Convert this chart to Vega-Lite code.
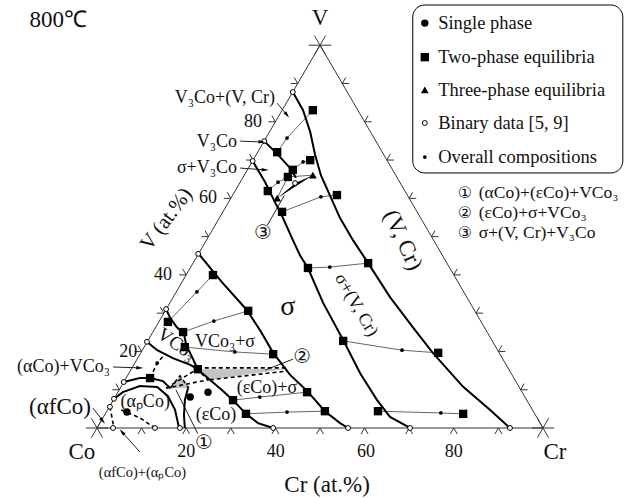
{
  "$schema": "https://vega.github.io/schema/vega-lite/v6.json",
  "width": 644,
  "height": 498,
  "padding": 0,
  "autosize": {"type": "fit", "contains": "padding"},
  "background": "white",
  "config": {"view": {"stroke": null}},
  "datasets": {
    "box": [{"x": 70.8, "x2": 117.9, "y": 95.7, "y2": 57.7}],
    "grey": [
      {"id": "g1", "x": 16.4, "y": 9.0}, {"id": "g1", "x": 18.6, "y": 11.8}, {"id": "g1", "x": 20.6, "y": 9.0},
      {"id": "g2", "x": 22.6, "y": 13.3}, {"id": "g2", "x": 42.8, "y": 13.4}, {"id": "g2", "x": 25.3, "y": 10.9}
    ],
    "black3": [
      {"id": "g3", "x": 40.4, "y": 52.0}, {"id": "g3", "x": 48.4, "y": 57.2}, {"id": "g3", "x": 44.5, "y": 55.4}
    ],
    "edges": [{"x": 0, "y": 0}, {"x": 100, "y": 0}, {"x": 50, "y": 86.6}, {"x": 0, "y": 0}],
    "ticksBase": [{"x": 10, "y": 0}, {"x": 20, "y": 0}, {"x": 30, "y": 0}, {"x": 40, "y": 0}, {"x": 50, "y": 0}, {"x": 60, "y": 0}, {"x": 70, "y": 0}, {"x": 80, "y": 0}, {"x": 90, "y": 0}],
    "ticksLeft": [{"x": 5, "y": 8.66}, {"x": 10, "y": 17.32}, {"x": 15, "y": 25.98}, {"x": 20, "y": 34.64}, {"x": 25, "y": 43.3}, {"x": 30, "y": 51.96}, {"x": 35, "y": 60.62}, {"x": 40, "y": 69.28}, {"x": 45, "y": 77.94}],
    "ticksRight": [{"x": 95, "y": 8.66}, {"x": 90, "y": 17.32}, {"x": 85, "y": 25.98}, {"x": 80, "y": 34.64}, {"x": 75, "y": 43.3}, {"x": 70, "y": 51.96}, {"x": 65, "y": 60.62}, {"x": 60, "y": 69.28}, {"x": 55, "y": 77.94}],
    "corners": [{"x": 0, "y": 0}, {"x": 100, "y": 0}, {"x": 50, "y": 86.6}],
    "thin": [
      {"id": "t1", "x": 40.4, "y": 62.4}, {"id": "t1", "x": 42.6, "y": 65.6}, {"id": "t1", "x": 48.4, "y": 71.9},
      {"id": "t2", "x": 43.9, "y": 58.4}, {"id": "t2", "x": 46.2, "y": 60.2}, {"id": "t2", "x": 47.8, "y": 60.6},
      {"id": "t3", "x": 38.3, "y": 53.6}, {"id": "t3", "x": 40.6, "y": 55.6}, {"id": "t3", "x": 42.8, "y": 56.8},
      {"id": "t4", "x": 41.5, "y": 48.9}, {"id": "t4", "x": 50.2, "y": 52.3}, {"id": "t4", "x": 53.8, "y": 52.7},
      {"id": "t5", "x": 47.3, "y": 36.2}, {"id": "t5", "x": 52.2, "y": 36.4}, {"id": "t5", "x": 60.8, "y": 37.3},
      {"id": "t6", "x": 55.2, "y": 19.7}, {"id": "t6", "x": 68.4, "y": 17.6}, {"id": "t6", "x": 76.5, "y": 17.0},
      {"id": "t7", "x": 63.0, "y": 3.8}, {"id": "t7", "x": 77.1, "y": 3.4}, {"id": "t7", "x": 82.1, "y": 3.2},
      {"id": "t8", "x": 15.9, "y": 24.0}, {"id": "t8", "x": 22.4, "y": 30.8}, {"id": "t8", "x": 26.0, "y": 34.6},
      {"id": "t9", "x": 19.3, "y": 21.7}, {"id": "t9", "x": 26.2, "y": 24.2}, {"id": "t9", "x": 33.9, "y": 26.5},
      {"id": "t10", "x": 19.7, "y": 18.3}, {"id": "t10", "x": 30.9, "y": 17.2}, {"id": "t10", "x": 39.5, "y": 16.7},
      {"id": "t11", "x": 30.5, "y": 6.3}, {"id": "t11", "x": 36.5, "y": 7.0}, {"id": "t11", "x": 47.1, "y": 8.1},
      {"id": "t12", "x": 33.4, "y": 3.2}, {"id": "t12", "x": 42.6, "y": 3.6}, {"id": "t12", "x": 51.1, "y": 3.8},
      {"id": "t13", "x": 40.4, "y": 52.0}, {"id": "t13", "x": 42.8, "y": 56.8}, {"id": "t13", "x": 48.4, "y": 57.2}
    ],
    "pointers": [
      {"id": "p1", "x": 40.4, "y": 73.5}, {"id": "p1", "x": 42.6, "y": 70.8},
      {"id": "p2", "x": 32.1, "y": 64.9}, {"id": "p2", "x": 37.0, "y": 64.7},
      {"id": "p3", "x": 32.1, "y": 58.8}, {"id": "p3", "x": 37.7, "y": 58.4},
      {"id": "p4", "x": 3.6, "y": 13.8}, {"id": "p4", "x": 9.6, "y": 13.6},
      {"id": "p5", "x": -0.9, "y": 4.5}, {"id": "p5", "x": 1.3, "y": 1.6},
      {"id": "p6", "x": 9.6, "y": -5.4}, {"id": "p6", "x": 5.6, "y": -0.9},
      {"id": "p7", "x": 22.6, "y": -1.3}, {"id": "p7", "x": 17.7, "y": 8.6},
      {"id": "p8", "x": 44.0, "y": 15.6}, {"id": "p8", "x": 37.7, "y": 13.1},
      {"id": "p9", "x": 38.2, "y": 45.9}, {"id": "p9", "x": 42.0, "y": 52.6}
    ],
    "dashed": [
      {"id": "d1", "x": 15.5, "y": 9.0}, {"id": "d1", "x": 22.4, "y": 13.3}, {"id": "d1", "x": 24.9, "y": 10.9}, {"id": "d1", "x": 15.5, "y": 9.0},
      {"id": "d2", "x": 16.4, "y": 9.0}, {"id": "d2", "x": 18.6, "y": 11.8}, {"id": "d2", "x": 20.6, "y": 9.0},
      {"id": "d3", "x": 22.6, "y": 13.6}, {"id": "d3", "x": 42.8, "y": 13.6},
      {"id": "d4", "x": 25.3, "y": 10.9}, {"id": "d4", "x": 42.8, "y": 12.9},
      {"id": "d5", "x": 2.9, "y": 4.8}, {"id": "d5", "x": 3.8, "y": 0},
      {"id": "d6", "x": 5.4, "y": 4.1}, {"id": "d6", "x": 9.6, "y": 2.3}, {"id": "d6", "x": 13.0, "y": 0},
      {"id": "d7", "x": 11.9, "y": 11.3}, {"id": "d7", "x": 13.5, "y": 14.7}, {"id": "d7", "x": 15.2, "y": 16.7}
    ],
    "thick": [
      {"id": "A", "x": 22.8, "y": 39.4}, {"id": "A", "x": 28.0, "y": 33.0}, {"id": "A", "x": 33.6, "y": 26.7}, {"id": "A", "x": 36.5, "y": 22.2}, {"id": "A", "x": 39.5, "y": 17.0}, {"id": "A", "x": 43.3, "y": 12.0}, {"id": "A", "x": 47.1, "y": 8.4}, {"id": "A", "x": 51.1, "y": 3.8}, {"id": "A", "x": 54.5, "y": 1.1}, {"id": "A", "x": 56.3, "y": 0},
      {"id": "B", "x": 34.9, "y": 60.4}, {"id": "B", "x": 37.7, "y": 55.6}, {"id": "B", "x": 39.9, "y": 51.1}, {"id": "B", "x": 41.7, "y": 47.5}, {"id": "B", "x": 43.7, "y": 43.0}, {"id": "B", "x": 45.5, "y": 39.1}, {"id": "B", "x": 47.3, "y": 36.2}, {"id": "B", "x": 50.7, "y": 28.3}, {"id": "B", "x": 55.2, "y": 19.9}, {"id": "B", "x": 59.0, "y": 12.4}, {"id": "B", "x": 62.8, "y": 6.3}, {"id": "B", "x": 65.7, "y": 2.5}, {"id": "B", "x": 70.2, "y": 0},
      {"id": "C", "x": 43.9, "y": 76.0}, {"id": "C", "x": 46.2, "y": 71.9}, {"id": "C", "x": 47.8, "y": 67.0}, {"id": "C", "x": 48.9, "y": 61.8}, {"id": "C", "x": 50.2, "y": 57.2}, {"id": "C", "x": 52.2, "y": 52.7}, {"id": "C", "x": 54.5, "y": 47.5}, {"id": "C", "x": 57.4, "y": 42.5}, {"id": "C", "x": 60.8, "y": 37.3}, {"id": "C", "x": 65.7, "y": 29.6}, {"id": "C", "x": 70.8, "y": 22.8}, {"id": "C", "x": 75.3, "y": 17.0}, {"id": "C", "x": 82.1, "y": 9.3}, {"id": "C", "x": 88.1, "y": 4.1}, {"id": "C", "x": 92.6, "y": 0},
      {"id": "D", "x": 37.5, "y": 64.9}, {"id": "D", "x": 40.6, "y": 61.8}, {"id": "D", "x": 43.3, "y": 58.8}, {"id": "D", "x": 44.6, "y": 56.6},
      {"id": "E", "x": 6.0, "y": 10.4}, {"id": "E", "x": 9.6, "y": 11.3}, {"id": "E", "x": 11.9, "y": 11.3}, {"id": "E", "x": 14.8, "y": 10.6}, {"id": "E", "x": 16.4, "y": 9.0},
      {"id": "F", "x": 3.8, "y": 6.6}, {"id": "F", "x": 5.8, "y": 8.1}, {"id": "F", "x": 9.6, "y": 9.5}, {"id": "F", "x": 13.5, "y": 9.3}, {"id": "F", "x": 15.9, "y": 7.2}, {"id": "F", "x": 17.5, "y": 4.1}, {"id": "F", "x": 18.4, "y": 0},
      {"id": "G", "x": 20.4, "y": 9.0}, {"id": "G", "x": 19.7, "y": 6.3}, {"id": "G", "x": 19.5, "y": 2.9}, {"id": "G", "x": 19.7, "y": 0},
      {"id": "H", "x": 15.5, "y": 26.9}, {"id": "H", "x": 16.4, "y": 24.9}, {"id": "H", "x": 17.9, "y": 22.8}, {"id": "H", "x": 19.5, "y": 21.3}, {"id": "H", "x": 20.0, "y": 18.8}, {"id": "H", "x": 21.3, "y": 16.1}, {"id": "H", "x": 22.6, "y": 13.3},
      {"id": "I", "x": 11.2, "y": 19.5}, {"id": "I", "x": 13.5, "y": 17.6}, {"id": "I", "x": 17.0, "y": 15.8}, {"id": "I", "x": 20.9, "y": 14.3}, {"id": "I", "x": 22.6, "y": 13.3},
      {"id": "J", "x": 25.3, "y": 10.9}, {"id": "J", "x": 28.0, "y": 8.6}, {"id": "J", "x": 30.5, "y": 6.3}, {"id": "J", "x": 33.4, "y": 3.2}, {"id": "J", "x": 36.1, "y": 1.1}, {"id": "J", "x": 39.5, "y": 0},
      {"id": "K", "x": 22.6, "y": 13.3}, {"id": "K", "x": 23.8, "y": 12.2}, {"id": "K", "x": 25.3, "y": 10.9}
    ],
    "binary": [
      {"x": 43.9, "y": 76.0}, {"x": 37.5, "y": 64.9}, {"x": 34.9, "y": 60.4}, {"x": 22.7, "y": 39.4}, {"x": 15.5, "y": 26.9}, {"x": 11.2, "y": 19.5}, {"x": 6.0, "y": 10.4}, {"x": 3.8, "y": 6.6}, {"x": 2.9, "y": 4.8},
      {"x": 3.6, "y": 0}, {"x": 13.0, "y": 0}, {"x": 18.6, "y": 0}, {"x": 39.5, "y": 0}, {"x": 56.3, "y": 0}, {"x": 70.2, "y": 0}, {"x": 92.6, "y": 0},
      {"x": 44.4, "y": 55.4}, {"x": 73.5, "y": 69.0}
    ],
    "squares": [
      {"x": 40.4, "y": 62.4}, {"x": 48.4, "y": 71.9}, {"x": 43.9, "y": 58.4}, {"x": 47.8, "y": 60.6}, {"x": 38.3, "y": 53.6}, {"x": 42.8, "y": 56.8}, {"x": 41.5, "y": 48.9}, {"x": 53.8, "y": 52.7},
      {"x": 47.3, "y": 36.2}, {"x": 60.8, "y": 37.3}, {"x": 55.2, "y": 19.7}, {"x": 76.5, "y": 17.0}, {"x": 63.0, "y": 3.8}, {"x": 82.1, "y": 3.2},
      {"x": 15.9, "y": 24.0}, {"x": 26.0, "y": 34.6}, {"x": 19.3, "y": 21.7}, {"x": 33.9, "y": 26.5}, {"x": 19.7, "y": 18.3}, {"x": 39.5, "y": 16.7},
      {"x": 30.5, "y": 6.3}, {"x": 47.1, "y": 8.1}, {"x": 33.4, "y": 3.2}, {"x": 51.1, "y": 3.8}, {"x": 22.6, "y": 13.3}, {"x": 11.9, "y": 11.3},
      {"x": 73.5, "y": 83.9}
    ],
    "overall": [
      {"x": 42.6, "y": 65.6}, {"x": 46.2, "y": 60.2}, {"x": 40.6, "y": 55.6}, {"x": 50.2, "y": 52.3}, {"x": 52.2, "y": 36.4}, {"x": 68.4, "y": 17.6}, {"x": 77.1, "y": 3.4},
      {"x": 22.4, "y": 30.8}, {"x": 26.2, "y": 24.2}, {"x": 30.9, "y": 17.2}, {"x": 36.5, "y": 7.0}, {"x": 42.6, "y": 3.6}, {"x": 13.5, "y": 14.7},
      {"x": 73.5, "y": 61.3}
    ],
    "single": [{"x": 6.7, "y": 3.6}, {"x": 20.9, "y": 7.0}, {"x": 24.9, "y": 8.1}, {"x": 73.5, "y": 91.6}],
    "threephase": [{"x": 40.4, "y": 52.0}, {"x": 48.4, "y": 57.2}, {"x": 73.5, "y": 76.5}],
    "arrowsFlat": [{"x": 37.0, "y": 64.7}, {"x": 37.7, "y": 58.4}, {"x": 9.6, "y": 13.6}],
    "arrowsDown": [{"x": 42.6, "y": 70.8}, {"x": 1.3, "y": 1.6}],
    "arrowsUp": [{"x": 5.6, "y": -0.9}],
    "lab18c": [
      {"x": 20.0, "y": -5.4, "t": "20"}, {"x": 40.1, "y": -5.4, "t": "40"}, {"x": 60.3, "y": -5.4, "t": "60"}, {"x": 80.0, "y": -5.4, "t": "80"},
      {"x": 35.0, "y": 69.2, "t": "80"}, {"x": 24.9, "y": 52.0, "t": "60"}, {"x": 14.8, "y": 34.6, "t": "40"}, {"x": 7.0, "y": 17.2, "t": "20"},
      {"x": 28.7, "y": 19.5, "t": "VCo₃+σ"}, {"x": 38.1, "y": 9.0, "t": "(εCo)+σ"}, {"x": 26.7, "y": 2.9, "t": "(εCo)"}, {"x": 10.8, "y": 5.9, "t": "(αₚCo)"}
    ],
    "lab18r": [
      {"x": 39.9, "y": 74.6, "t": "V₃Co+(V, Cr)"}, {"x": 31.4, "y": 64.7, "t": "V₃Co"}, {"x": 31.4, "y": 58.8, "t": "σ+V₃Co"}, {"x": 2.9, "y": 13.8, "t": "(αCo)+VCo₃"}
    ],
    "lab23": [
      {"x": 50, "y": 92.7, "t": "V"}, {"x": -3.4, "y": -5.4, "t": "Co"}, {"x": 102.7, "y": -5.4, "t": "Cr"}, {"x": 51.6, "y": -12.9, "t": "Cr (at.%)"}, {"x": -8.7, "y": 92.3, "t": "800℃"}, {"x": -8.3, "y": 4.8, "t": "(αfCo)"}
    ],
    "lab15": [{"x": 10.2, "y": -10.2, "t": "(αfCo)+(αₚCo)"}],
    "labSigma": [{"x": 42.8, "y": 27.4, "t": "σ"}],
    "labVat": [{"x": 15.6, "y": 47.2, "t": "V (at.%)"}],
    "labVCr": [{"x": 68.6, "y": 42.5, "t": "(V, Cr)"}],
    "labSVCr": [{"x": 58.1, "y": 27.8, "t": "σ+(V, Cr)"}],
    "labVCo3": [{"x": 17.9, "y": 19.0, "t": "VCo₃"}],
    "legendText": [
      {"x": 76.5, "y": 91.6, "t": "Single phase"}, {"x": 76.5, "y": 83.9, "t": "Two-phase equilibria"}, {"x": 76.5, "y": 76.5, "t": "Three-phase equilibria"}, {"x": 76.5, "y": 69.0, "t": "Binary data [5, 9]"}, {"x": 76.5, "y": 61.3, "t": "Overall compositions"}
    ],
    "noteText": [
      {"x": 85.6, "y": 53.2, "t": "(αCo)+(εCo)+VCo₃"}, {"x": 85.6, "y": 48.6, "t": "(εCo)+σ+VCo₃"}, {"x": 85.6, "y": 44.1, "t": "σ+(V, Cr)+V₃Co"}
    ],
    "circledPlot": [
      {"x": 24.0, "y": -3.4, "t": "①"}, {"x": 46.0, "y": 16.1, "t": "②"}, {"x": 37.2, "y": 44.1, "t": "③"}
    ],
    "circledNote": [
      {"x": 82.5, "y": 53.2, "t": "①"}, {"x": 82.5, "y": 48.6, "t": "②"}, {"x": 82.5, "y": 44.1, "t": "③"}
    ]
  },
  "encoding": {
    "x": {"field": "x", "type": "quantitative", "scale": {"domain": [-21.75, 122.65], "nice": false, "zero": false}, "axis": null},
    "y": {"field": "y", "type": "quantitative", "scale": {"domain": [-15.84, 96.83], "nice": false, "zero": false}, "axis": null}
  },
  "layer": [
    {"data": {"name": "box"}, "mark": {"type": "rect", "fill": "white", "stroke": "black", "strokeWidth": 1, "cornerRadius": 12}, "encoding": {"x2": {"field": "x2"}, "y2": {"field": "y2"}}},
    {"data": {"name": "grey"}, "mark": {"type": "line", "filled": true, "color": "#c4c4c4", "interpolate": "linear-closed"}, "encoding": {"detail": {"field": "id"}, "order": {"value": null}}},
    {"data": {"name": "black3"}, "mark": {"type": "line", "filled": true, "color": "black", "interpolate": "linear-closed"}, "encoding": {"detail": {"field": "id"}, "order": {"value": null}}},
    {"data": {"name": "edges"}, "mark": {"type": "line", "color": "#333", "strokeWidth": 1}, "encoding": {"order": {"value": null}}},
    {"data": {"name": "ticksBase"}, "mark": {"type": "point", "shape": "M-0.5,0.866L0,0L0.5,0.866", "size": 196, "filled": false, "stroke": "#333", "strokeWidth": 1, "opacity": 1}},
    {"data": {"name": "ticksLeft"}, "mark": {"type": "point", "shape": "M-1,0L0,0L-0.5,-0.866", "size": 196, "filled": false, "stroke": "#333", "strokeWidth": 1, "opacity": 1}},
    {"data": {"name": "ticksRight"}, "mark": {"type": "point", "shape": "M1,0L0,0L0.5,-0.866", "size": 196, "filled": false, "stroke": "#333", "strokeWidth": 1, "opacity": 1}},
    {"data": {"name": "corners"}, "mark": {"type": "point", "shape": "M-1,0L1,0M-0.5,-0.866L0.5,0.866M-0.5,0.866L0.5,-0.866", "size": 500, "filled": false, "stroke": "#333", "strokeWidth": 1, "opacity": 1}},
    {"data": {"name": "thin"}, "mark": {"type": "line", "color": "#555", "strokeWidth": 0.9}, "encoding": {"detail": {"field": "id"}, "order": {"value": null}}},
    {"data": {"name": "pointers"}, "mark": {"type": "line", "color": "#222", "strokeWidth": 1}, "encoding": {"detail": {"field": "id"}, "order": {"value": null}}},
    {"data": {"name": "dashed"}, "mark": {"type": "line", "color": "black", "strokeWidth": 1.6, "strokeDash": [4, 3]}, "encoding": {"detail": {"field": "id"}, "order": {"value": null}}},
    {"data": {"name": "thick"}, "mark": {"type": "line", "color": "black", "strokeWidth": 2}, "encoding": {"detail": {"field": "id"}, "order": {"value": null}}},
    {"data": {"name": "binary"}, "mark": {"type": "point", "shape": "circle", "size": 24, "filled": true, "fill": "white", "stroke": "black", "strokeWidth": 1, "opacity": 1}},
    {"data": {"name": "squares"}, "mark": {"type": "point", "shape": "square", "size": 70, "filled": true, "color": "black", "opacity": 1}},
    {"data": {"name": "overall"}, "mark": {"type": "point", "shape": "circle", "size": 14, "filled": true, "color": "black", "opacity": 1}},
    {"data": {"name": "single"}, "mark": {"type": "point", "shape": "circle", "size": 55, "filled": true, "color": "black", "opacity": 1}},
    {"data": {"name": "threephase"}, "mark": {"type": "point", "shape": "triangle-up", "size": 60, "filled": true, "color": "black", "opacity": 1}},
    {"data": {"name": "arrowsFlat"}, "mark": {"type": "point", "shape": "M1,0L-1,-0.5L-1,0.5Z", "size": 50, "angle": 3, "filled": true, "color": "black", "opacity": 1}},
    {"data": {"name": "arrowsDown"}, "mark": {"type": "point", "shape": "M1,0L-1,-0.5L-1,0.5Z", "size": 50, "angle": 52, "filled": true, "color": "black", "opacity": 1}},
    {"data": {"name": "arrowsUp"}, "mark": {"type": "point", "shape": "M1,0L-1,-0.5L-1,0.5Z", "size": 50, "angle": 228, "filled": true, "color": "black", "opacity": 1}},
    {"data": {"name": "lab18c"}, "mark": {"type": "text", "font": "Liberation Serif", "fontSize": 18, "color": "#111"}, "encoding": {"text": {"field": "t"}}},
    {"data": {"name": "lab18r"}, "mark": {"type": "text", "font": "Liberation Serif", "fontSize": 18, "align": "right", "color": "#111"}, "encoding": {"text": {"field": "t"}}},
    {"data": {"name": "lab23"}, "mark": {"type": "text", "font": "Liberation Serif", "fontSize": 23, "color": "#111"}, "encoding": {"text": {"field": "t"}}},
    {"data": {"name": "lab15"}, "mark": {"type": "text", "font": "Liberation Serif", "fontSize": 14.5, "color": "#111"}, "encoding": {"text": {"field": "t"}}},
    {"data": {"name": "labSigma"}, "mark": {"type": "text", "font": "Liberation Serif", "fontSize": 28, "color": "#111"}, "encoding": {"text": {"field": "t"}}},
    {"data": {"name": "labVat"}, "mark": {"type": "text", "font": "Liberation Serif", "fontSize": 21, "angle": -53, "color": "#111"}, "encoding": {"text": {"field": "t"}}},
    {"data": {"name": "labVCr"}, "mark": {"type": "text", "font": "Liberation Serif", "fontSize": 23, "angle": 65, "color": "#111"}, "encoding": {"text": {"field": "t"}}},
    {"data": {"name": "labSVCr"}, "mark": {"type": "text", "font": "Liberation Serif", "fontSize": 18, "angle": 60, "color": "#111"}, "encoding": {"text": {"field": "t"}}},
    {"data": {"name": "labVCo3"}, "mark": {"type": "text", "font": "Liberation Serif", "fontSize": 19, "angle": 35, "color": "#111"}, "encoding": {"text": {"field": "t"}}},
    {"data": {"name": "legendText"}, "mark": {"type": "text", "font": "Liberation Serif", "fontSize": 18.5, "align": "left", "color": "#111"}, "encoding": {"text": {"field": "t"}}},
    {"data": {"name": "noteText"}, "mark": {"type": "text", "font": "Liberation Serif", "fontSize": 17.5, "align": "left", "color": "#111"}, "encoding": {"text": {"field": "t"}}},
    {"data": {"name": "circledPlot"}, "mark": {"type": "text", "font": "DejaVu Sans", "fontSize": 20, "color": "#111"}, "encoding": {"text": {"field": "t"}}},
    {"data": {"name": "circledNote"}, "mark": {"type": "text", "font": "DejaVu Sans", "fontSize": 16, "color": "#111"}, "encoding": {"text": {"field": "t"}}}
  ]
}
